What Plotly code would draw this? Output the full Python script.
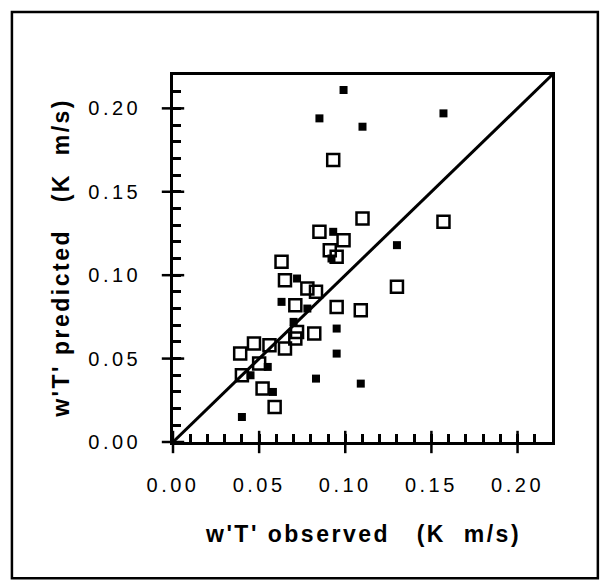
import plotly.graph_objects as go

obs_open = [0.093, 0.110, 0.157, 0.085, 0.099, 0.091, 0.095, 0.063, 0.065, 0.078,
            0.083, 0.071, 0.095, 0.109, 0.130, 0.072, 0.082, 0.071, 0.065, 0.056,
            0.047, 0.039, 0.050, 0.040, 0.052, 0.059]
pred_open = [0.169, 0.134, 0.132, 0.126, 0.121, 0.115, 0.111, 0.108, 0.097, 0.092,
             0.090, 0.082, 0.081, 0.079, 0.093, 0.066, 0.065, 0.062, 0.056, 0.058,
             0.059, 0.053, 0.047, 0.040, 0.032, 0.021]

obs_filled = [0.099, 0.085, 0.110, 0.157, 0.130, 0.095, 0.095, 0.083, 0.109, 0.040,
              0.058, 0.055, 0.072, 0.063, 0.078, 0.093, 0.092, 0.045, 0.070]
pred_filled = [0.211, 0.194, 0.189, 0.197, 0.118, 0.068, 0.053, 0.038, 0.035, 0.015,
               0.030, 0.045, 0.098, 0.084, 0.080, 0.126, 0.110, 0.040, 0.072]

one_to_one = [0.0, 0.22]
major_vals = [0.00, 0.05, 0.10, 0.15, 0.20]
major_text = ["0.00", "0.05", "0.10", "0.15", "0.20"]
minor_vals = [round(i * 0.01, 2) for i in range(22)]
minor_text = [major_text[major_vals.index(v)] if v in major_vals else "" for v in minor_vals]

FONT = "Liberation Sans, Arial, Helvetica, sans-serif"
NB = "\u00a0"

fig = go.Figure()

# outer stubs for the major ticks, drawn as line markers crossing the axes
origin = one_to_one[0]
tick_line = dict(color="black", width=2.5)
fig.add_trace(go.Scatter(x=major_vals, y=[origin] * len(major_vals), mode="markers",
                         marker=dict(symbol="line-ns", size=16, color="black", line=tick_line),
                         cliponaxis=False, hoverinfo="skip"))
fig.add_trace(go.Scatter(x=[origin] * len(major_vals), y=major_vals, mode="markers",
                         marker=dict(symbol="line-ew", size=16, color="black", line=tick_line),
                         cliponaxis=False, hoverinfo="skip"))

fig.add_trace(go.Scatter(x=one_to_one, y=one_to_one, mode="lines",
                         line=dict(color="black", width=3), hoverinfo="skip"))
fig.add_trace(go.Scatter(x=obs_filled, y=pred_filled, mode="markers",
                         marker=dict(symbol="square", size=8, color="black",
                                     line=dict(width=0))))
fig.add_trace(go.Scatter(x=obs_open, y=pred_open, mode="markers",
                         marker=dict(symbol="square-open", size=12, color="black",
                                     line=dict(width=2.5, color="black"))))

axis_common = dict(range=one_to_one, showgrid=False, zeroline=False,
                   showline=True, linecolor="black", linewidth=2.5, mirror=True,
                   tickmode="array", tickvals=minor_vals, ticktext=minor_text,
                   ticks="inside", ticklen=8, tickwidth=2.5, tickcolor="black",
                   tickfont=dict(size=20, family=FONT))

fig.update_layout(
    width=610, height=587,
    margin=dict(l=165, r=66, t=67, b=153),
    paper_bgcolor="white", plot_bgcolor="white",
    showlegend=False,
    font=dict(family=FONT, color="black"),
    xaxis=dict(**axis_common, ticklabelstandoff=23),
    yaxis=dict(**axis_common, ticklabelstandoff=25),
)

fig.add_annotation(text="w'T' observed" + NB * 3 + "(K" + NB * 2 + "m/s)",
                   xref="paper", yref="paper", x=0.5, y=-0.251,
                   xanchor="center", yanchor="middle", showarrow=False,
                   font=dict(size=23, family=FONT, weight="bold"))
fig.add_annotation(text="w'T' predicted" + NB * 3 + "(K" + NB * 2 + "m/s)",
                   xref="paper", yref="paper", x=-0.298, y=0.5,
                   xanchor="center", yanchor="middle", showarrow=False, textangle=-90,
                   font=dict(size=23, family=FONT, weight="bold"))

# outer frame around the whole figure
fig.add_shape(type="rect", xref="paper", yref="paper",
              x0=-0.425, x1=1.121, y0=-0.371, y1=1.172,
              fillcolor="rgba(0,0,0,0)", line=dict(color="black", width=2.5))

spacing = ("document.querySelectorAll('.xtick text, .ytick text')"
           ".forEach(function(t){t.style.letterSpacing='3.5px';});"
           "document.querySelectorAll('.annotation-text')"
           ".forEach(function(t){t.style.letterSpacing='2.5px';});")

fig.write_html("out.html", post_script=spacing)
